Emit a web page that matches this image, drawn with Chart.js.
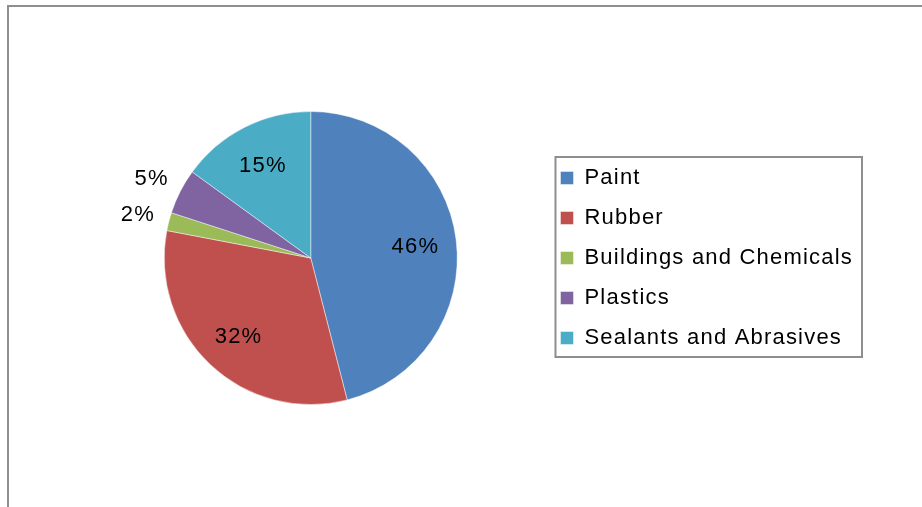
<!DOCTYPE html>
<html>
<head>
<meta charset="utf-8">
<script src="https://cdn.jsdelivr.net/npm/chart.js@4.4.1/dist/chart.umd.min.js"></script>
<style>
  html, body { margin: 0; padding: 0; background: #fff; overflow: hidden; }
  #wrap { position: relative; width: 922px; height: 507px; }
  #frame {
    position: absolute; left: 7px; top: 5px; width: 1000px; height: 1000px;
    border-left: 2px solid #8e8e8e; border-top: 2px solid #8e8e8e;
  }
  #salesPie { position: absolute; left: 0; top: 0; }
</style>
</head>
<body>
<div id="wrap">
  <div id="frame"></div>
  <canvas id="salesPie" width="922" height="507"></canvas>
</div>
<script>
const segments = ['Paint', 'Rubber', 'Buildings and Chemicals', 'Plastics', 'Sealants and Abrasives'];
const shares = [46, 32, 2, 5, 15];
const sliceColors = ['#4f81bd', '#c0504d', '#9bbb59', '#8064a2', '#4bacc6'];

const FONT = '"Liberation Sans", Arial, sans-serif';
const FONT_SIZE = 22;
const SPACING = '1.2px';

// canvas letter spacing gets reset with the canvas, so reapply before layout and draw
const spacingPlugin = {
  id: 'spacing',
  beforeLayout(chart) { chart.ctx.letterSpacing = SPACING; },
  beforeDraw(chart) { chart.ctx.letterSpacing = SPACING; }
};

// percent labels: inside for big slices, outside for small ones
const pctLabels = {
  id: 'pctLabels',
  afterDatasetsDraw(chart) {
    const ctx = chart.ctx;
    const meta = chart.getDatasetMeta(0);
    const data = chart.data.datasets[0].data;
    const capHalf = FONT_SIZE * 0.358; // centre the digits on the anchor point
    ctx.save();
    ctx.letterSpacing = SPACING;
    ctx.font = FONT_SIZE + 'px ' + FONT;
    ctx.fillStyle = '#000';
    ctx.textAlign = 'center';
    ctx.textBaseline = 'alphabetic';
    meta.data.forEach((arc, i) => {
      const p = arc.getProps(['x', 'y', 'startAngle', 'endAngle', 'outerRadius'], true);
      const mid = (p.startAngle + p.endAngle) / 2;
      const d = data[i] >= 10 ? p.outerRadius * 0.72 : p.outerRadius + 32;
      ctx.fillText(data[i] + '%', p.x + Math.cos(mid) * d, p.y + Math.sin(mid) * d + capHalf);
    });
    ctx.restore();
  }
};

// border round the legend items
const legendFrame = {
  id: 'legendFrame',
  afterDraw(chart) {
    const boxes = chart.legend.legendHitBoxes;
    if (!boxes || !boxes.length) return;
    const first = boxes[0];
    const last = boxes[boxes.length - 1];
    const right = Math.max(...boxes.map(b => b.left + b.width));
    const ctx = chart.ctx;
    ctx.save();
    ctx.strokeStyle = '#8e8e8e';
    ctx.lineWidth = 2;
    ctx.strokeRect(first.left - 5, first.top - 10, right - first.left + 14, last.top + last.height - first.top + 18);
    ctx.restore();
  }
};

new Chart(document.getElementById('salesPie'), {
  type: 'pie',
  data: {
    labels: segments,
    datasets: [{
      data: shares,
      backgroundColor: sliceColors,
      borderColor: 'rgba(255,255,255,0.45)',
      borderWidth: 1
    }]
  },
  options: {
    responsive: false,
    animation: false,
    layout: { padding: { left: 79, top: 111, bottom: 102, right: 59 } },
    plugins: {
      tooltip: { enabled: false },
      legend: {
        position: 'right',
        align: 'center',
        labels: {
          color: '#000',
          font: { family: FONT, size: FONT_SIZE },
          boxWidth: 13,
          boxHeight: 13,
          padding: 18
        }
      }
    }
  },
  plugins: [spacingPlugin, pctLabels, legendFrame]
});
</script>
</body>
</html>
